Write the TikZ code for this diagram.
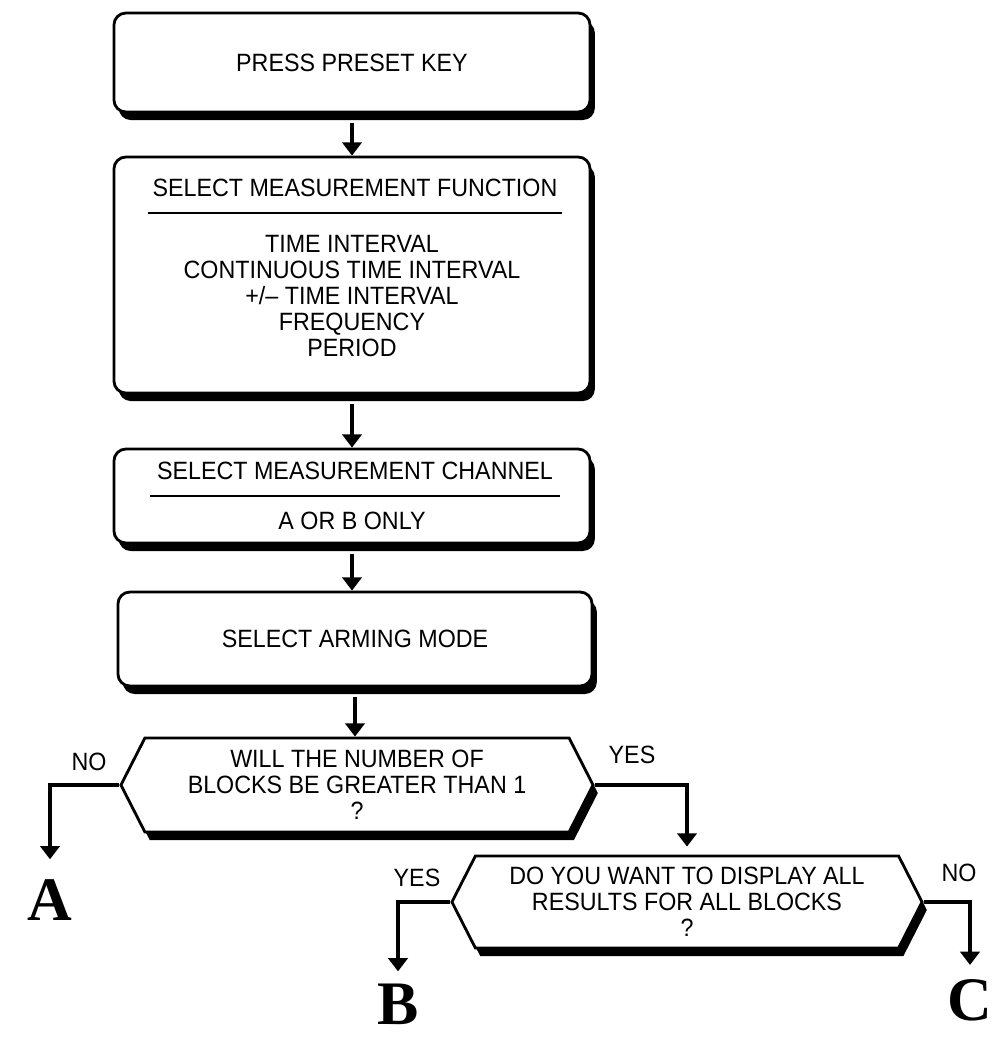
\documentclass[tikz,border=0pt]{standalone}
\usepackage{fontspec}
\setmainfont{Liberation Sans}[FakeStretch=0.93]
\newfontfamily\letterfont{Liberation Serif}
\usetikzlibrary{shapes.symbols,shadows,arrows.meta}

\begin{document}
\begin{tikzpicture}[
        x=0.025cm, y=-0.025cm,
        every node/.style={font=\fontsize{17.8}{18.6}\selectfont},
        boxshadow/.style={drop shadow={shadow xshift=0.12cm, shadow yshift=-0.2cm, fill=black, opacity=1}},
        stepbox/.style={draw, line width=2pt, fill=white, rounded corners=0.3cm,
            minimum width=11.9cm, boxshadow},
        decision/.style={signal, signal to=west and east, signal pointer angle=126,
            draw, line width=2pt, fill=white, align=center,
            minimum width=11.8cm, minimum height=2.35cm, boxshadow},
        flow/.style={-{Triangle[width=0.48cm,length=0.33cm]}, line width=3pt},
        rule/.style={line width=1.5pt},
        answer/.style={inner sep=2pt},
        exitlabel/.style={font=\letterfont\bfseries\fontsize{44}{44}\selectfont, inner sep=0pt}
    ]

    \useasboundingbox (0,0) rectangle (1002,1042);

    % Steps
    \node[stepbox, minimum height=2.475cm] (preset) at (352,62.5) {PRESS PRESET KEY};

    \node[stepbox, minimum height=5.9cm] (function) at (352,275) {};
    \node (funchead) at (355,188) {SELECT MEASUREMENT FUNCTION};
    \draw[rule] (148,213) -- (562,213);
    \node[align=center] (funclist) at (352,296)
    {TIME INTERVAL\\CONTINUOUS TIME INTERVAL\\+/– TIME INTERVAL\\FREQUENCY\\PERIOD};

    \node[stepbox, minimum height=2.35cm] (channel) at (352,496) {};
    \node (chanhead) at (355,471) {SELECT MEASUREMENT CHANNEL};
    \draw[rule] (150,496) -- (560,496);
    \node (chanlist) at (352,521) {A OR B ONLY};

    \node[stepbox, minimum width=11.85cm, minimum height=2.35cm] (arming) at (355,639) {SELECT ARMING MODE};

    % Decisions
    \node[decision] (blocks) at (357,785) {WILL THE NUMBER OF\\BLOCKS BE GREATER THAN 1\\?};
    \node[decision, minimum width=11.75cm, minimum height=2.3cm] (display) at (687,902)
    {DO YOU WANT TO DISPLAY ALL\\RESULTS FOR ALL BLOCKS\\?};

    % Answers
    \node[answer] (noblocks) at (89,762) {NO};
    \node[answer] (yesblocks) at (632,755) {YES};
    \node[answer] (yesdisplay) at (417,878) {YES};
    \node[answer] (nodisplay) at (959,873) {NO};

    % Exits
    \node[exitlabel] (exitA) at (50,900) {A};
    \node[exitlabel] (exitB) at (398,1004) {B};
    \node[exitlabel] (exitC) at (970,1000) {C};

    % Flow
    \draw[flow, shorten <=0.25cm] (preset) -- (function);
    \draw[flow, shorten <=0.25cm] (function) -- (channel);
    \draw[flow, shorten <=0.25cm] (channel) -- (arming.north -| channel.south);
    \draw[flow, shorten <=0.25cm] (arming.south) -- (arming.south |- blocks.north);
    \draw[flow, shorten >=0.5cm] (blocks.west) -| (exitA);
    \draw[flow, shorten >=0.2cm] (blocks.east) -| (display.north);
    \draw[flow, shorten >=0.3cm] (display.west) -| (exitB);
    \draw[flow, shorten >=0.35cm] (display.east) -| (exitC);

    \end{tikzpicture}
\end{document}
